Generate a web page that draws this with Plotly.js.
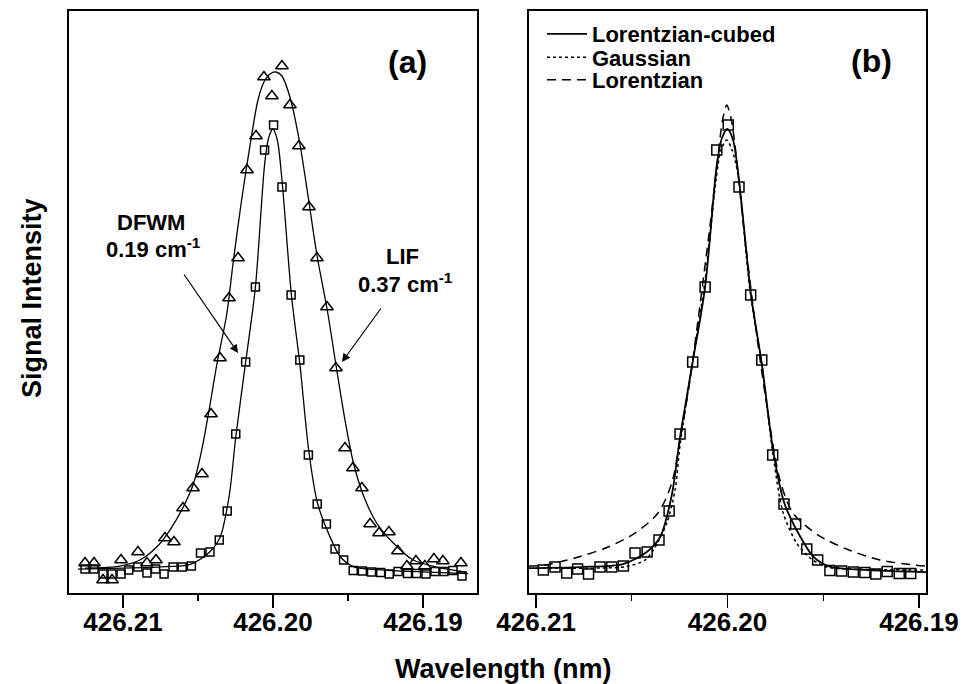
<!DOCTYPE html>
<html>
<head>
<meta charset="utf-8">
<script src="https://cdn.plot.ly/plotly-3.0.1.min.js"></script>
<style>html,body{margin:0;padding:0;background:#fff;}#chart{width:962px;height:684px;}</style>
</head>
<body>
<div id="chart"></div>
<script>
// ---- data (wavelength in nm, intensity in arbitrary units) ----
const tickVals = [426.21, 426.20, 426.19];
const tickText = ["426.21", "426.20", "426.19"];
const minorVals = [426.205, 426.195];

// LIF measurements (triangles), panel (a)
const lifX = [426.21253, 426.21193, 426.21133, 426.21073, 426.21013, 426.20900, 426.20840, 426.20780, 426.20720, 426.20660,
              426.20600, 426.20533, 426.20473, 426.20413, 426.20353, 426.20293, 426.20233, 426.20173, 426.20113, 426.20060,
              426.20007, 426.19940, 426.19887, 426.19827, 426.19760, 426.19707, 426.19640, 426.19580, 426.19520, 426.19467,
              426.19407, 426.19353, 426.19293, 426.19227, 426.19167, 426.19107, 426.19047, 426.18987, 426.18927, 426.18867,
              426.18747];
const lifY = [0.014, 0.014, -0.020, -0.020, 0.020, 0.036, 0.014, 0.020, 0.064, 0.056,
              0.124, 0.164, 0.192, 0.312, 0.424, 0.544, 0.624, 0.800, 0.868, 0.986,
              0.948, 1.008, 0.930, 0.848, 0.726, 0.624, 0.526, 0.404, 0.244, 0.204,
              0.164, 0.092, 0.074, 0.076, 0.038, 0.008, 0.018, 0.008, 0.022, 0.018,
              0.014];

// DFWM measurements (squares), panels (a) and (b)
const dfwmX = [426.21253, 426.21193, 426.21133, 426.21073, 426.21013, 426.20962, 426.20901, 426.20840, 426.20783, 426.20726,
               426.20666, 426.20605, 426.20544, 426.20483, 426.20420, 426.20358, 426.20305, 426.20248, 426.20182, 426.20117,
               426.20056, 426.19996, 426.19940, 426.19879, 426.19821, 426.19764, 426.19705, 426.19644, 426.19586, 426.19529,
               426.19465, 426.19404, 426.19343, 426.19282, 426.19225, 426.19166, 426.19103, 426.19043, 426.18980, 426.18920,
               426.18860, 426.18800, 426.18740];
const dfwmY = [0.002, 0.002, -0.008, -0.008, -0.008, 0.000, 0.006, -0.006, 0.002, -0.008,
               0.006, 0.006, 0.008, 0.034, 0.036, 0.060, 0.118, 0.272, 0.416, 0.566,
               0.840, 0.890, 0.766, 0.550, 0.420, 0.230, 0.132, 0.092, 0.042, 0.020,
               -0.001, -0.002, -0.004, -0.005, -0.008, -0.003, -0.007, -0.007, -0.008, -0.003,
               -0.003, -0.001, -0.012];
// panel (b) shows the central part of the same DFWM scan
const panelBFirst = 5, panelBLast = 37;

// LIF fitted curve, panel (a)
const lifFitX = [426.21253, 426.21020, 426.20887, 426.20775, 426.20687, 426.20598, 426.20531, 426.20475, 426.20420, 426.20375,
                 426.20309, 426.20265, 426.20209, 426.20142, 426.20100, 426.20060, 426.20020, 426.19980, 426.19940, 426.19887,
                 426.19825, 426.19762, 426.19707, 426.19638, 426.19580, 426.19520, 426.19465, 426.19398, 426.19309, 426.19198,
                 426.19065, 426.18909, 426.18709];
const lifFitY = [0.004, 0.008, 0.020, 0.046, 0.080, 0.126, 0.172, 0.240, 0.330, 0.410,
                 0.510, 0.616, 0.740, 0.870, 0.940, 0.976, 0.992, 0.996, 0.988, 0.946,
                 0.860, 0.740, 0.630, 0.520, 0.410, 0.300, 0.216, 0.150, 0.094, 0.054,
                 0.020, 0.006, -0.004];

// Lorentzian-cubed fit to DFWM (solid), panels (a) and (b)
const l3FitX = [426.21300, 426.20996, 426.20770, 426.20546, 426.20422, 426.20352, 426.20291, 426.20248, 426.20182, 426.20117,
                426.20056, 426.20029, 426.20001, 426.19971, 426.19940, 426.19877, 426.19820, 426.19762, 426.19705, 426.19639,
                426.19552, 426.19465, 426.19256, 426.18963, 426.18700];
const l3FitY = [0.002, 0.004, 0.006, 0.012, 0.036, 0.066, 0.150, 0.266, 0.416, 0.566,
                0.810, 0.864, 0.882, 0.860, 0.780, 0.550, 0.410, 0.240, 0.136, 0.080,
                0.027, 0.007, 0.000, -0.004, -0.007];

// Gaussian fit (dotted), panel (b)
const gaussFitX = [426.20996, 426.20666, 426.20526, 426.20431, 426.20387, 426.20317, 426.20274, 426.20248, 426.20185, 426.20117,
                   426.20060, 426.20034, 426.20004, 426.19976, 426.19945, 426.19883, 426.19820, 426.19762, 426.19709, 426.19639,
                   426.19569, 426.19482, 426.19360, 426.18963];
const gaussFitY = [0.004, 0.004, 0.007, 0.020, 0.040, 0.094, 0.160, 0.250, 0.410, 0.580,
                   0.780, 0.840, 0.860, 0.840, 0.790, 0.560, 0.410, 0.230, 0.114, 0.054,
                   0.024, 0.006, 0.002, 0.000];

// Lorentzian fit (dashed), panel (b)
const lorFitX = [426.21037, 426.20953, 426.20796, 426.20624, 426.20483, 426.20363, 426.20291, 426.20248, 426.20196, 426.20154,
                 426.20091, 426.20049, 426.20026, 426.20004, 426.19982, 426.19961, 426.19914, 426.19851, 426.19799, 426.19726,
                 426.19658, 426.19527, 426.19378, 426.19204, 426.19021, 426.18963];
const lorFitY = [0.008, 0.010, 0.024, 0.046, 0.074, 0.114, 0.174, 0.260, 0.380, 0.500,
                 0.690, 0.830, 0.900, 0.930, 0.904, 0.850, 0.680, 0.480, 0.340, 0.180,
                 0.114, 0.070, 0.042, 0.020, 0.010, 0.008];

const legendNames = ["Lorentzian-cubed", "Gaussian", "Lorentzian"];

// ---- styling ----
const FONT = "Liberation Sans, Arial, Helvetica, sans-serif";
const ink = "#000000";

const dfwmBX = dfwmX.slice(panelBFirst, panelBLast + 1);
const dfwmBY = dfwmY.slice(panelBFirst, panelBLast + 1);

const traces = [
  {x: lifFitX, y: lifFitY, xaxis: "x", yaxis: "y", mode: "lines", line: {color: ink, width: 1.3, shape: "spline", smoothing: 0.8}, showlegend: false, hoverinfo: "skip"},
  {x: l3FitX, y: l3FitY, xaxis: "x", yaxis: "y", mode: "lines", line: {color: ink, width: 1.3, shape: "spline", smoothing: 0.8}, showlegend: false, hoverinfo: "skip"},
  {x: lifX, y: lifY, xaxis: "x", yaxis: "y", mode: "markers", marker: {symbol: "triangle-up-open", size: 11, color: ink, line: {width: 1.5, color: ink}}, showlegend: false},
  {x: dfwmX, y: dfwmY, xaxis: "x", yaxis: "y", mode: "markers", marker: {symbol: "square-open", size: 8, color: ink, line: {width: 1.5, color: ink}}, showlegend: false},

  {x: l3FitX, y: l3FitY, xaxis: "x2", yaxis: "y2", mode: "lines", name: legendNames[0], legend: "legend", line: {color: ink, width: 1.8, shape: "spline", smoothing: 0.8}, showlegend: true},
  {x: gaussFitX, y: gaussFitY, xaxis: "x2", yaxis: "y2", mode: "lines", name: legendNames[1], legend: "legend2", line: {color: ink, width: 1.5, dash: "dot", shape: "spline", smoothing: 0.8}, showlegend: true},
  {x: lorFitX, y: lorFitY, xaxis: "x2", yaxis: "y2", mode: "lines", name: legendNames[2], legend: "legend3", line: {color: ink, width: 1.5, dash: "9px,6px", shape: "spline", smoothing: 0.8}, showlegend: true},
  {x: dfwmBX, y: dfwmBY, xaxis: "x2", yaxis: "y2", mode: "markers", marker: {symbol: "square-open", size: 10, color: ink, line: {width: 1.5, color: ink}}, showlegend: false}
];

function xAxis(domain, range, anchor) {
  return {
    domain: domain, range: range, anchor: anchor,
    tickmode: "array", tickvals: tickVals, ticktext: tickText,
    ticks: "outside", ticklen: 13, tickwidth: 1.5, tickcolor: ink,
    ticklabelstandoff: -8,
    minor: {tickmode: "array", tickvals: minorVals, ticks: "outside", ticklen: 6, tickwidth: 1.2, tickcolor: ink, showgrid: false},
    showline: true, linewidth: 2, linecolor: ink, mirror: true,
    showgrid: false, zeroline: false,
    tickfont: {family: FONT, size: 26, color: ink, weight: "bold"}
  };
}
function yAxis(anchor) {
  return {
    domain: [0.1330, 0.9832], range: [-0.046, 1.117], anchor: anchor,
    showticklabels: false, ticks: "",
    showline: true, linewidth: 2, linecolor: ink, mirror: true,
    showgrid: false, zeroline: false
  };
}

function legendRow(yPaper) {
  return {
    x: 0.5634, y: yPaper, xanchor: "left", yanchor: "middle",
    bgcolor: "rgba(0,0,0,0)", borderwidth: 0,
    font: {family: FONT, size: 22, color: ink, weight: "bold"},
    itemwidth: 40
  };
}

const labelFont = (s) => ({family: FONT, size: s, color: ink, weight: "bold"});

const layout = {
  width: 962, height: 684,
  margin: {l: 0, r: 0, t: 0, b: 0},
  paper_bgcolor: "#ffffff", plot_bgcolor: "#ffffff",
  xaxis: xAxis([0.0717, 0.4958], [426.2136, 426.1864], "y"),
  yaxis: yAxis("x"),
  xaxis2: xAxis([0.5499, 0.9626], [426.21037, 426.18963], "y2"),
  yaxis2: yAxis("x2"),
  showlegend: true,
  legend: legendRow(0.9503),
  legend2: legendRow(0.9159),
  legend3: legendRow(0.8830),
  annotations: [
    {xref: "paper", yref: "paper", x: 0.523, y: 0.022, text: "Wavelength (nm)", showarrow: false, xanchor: "center", yanchor: "middle", font: labelFont(27)},
    {xref: "paper", yref: "paper", x: 0.034, y: 0.564, text: "Signal Intensity", textangle: -90, showarrow: false, xanchor: "center", yanchor: "middle", font: labelFont(27)},
    {xref: "paper", yref: "paper", x: 0.4231, y: 0.9094, text: "(a)", showarrow: false, xanchor: "center", yanchor: "middle", font: labelFont(32)},
    {xref: "paper", yref: "paper", x: 0.9064, y: 0.9108, text: "(b)", showarrow: false, xanchor: "center", yanchor: "middle", font: labelFont(32)},
    {xref: "paper", yref: "paper", x: 0.157, y: 0.6754, text: "DFWM", showarrow: false, xanchor: "center", yanchor: "middle", font: labelFont(22)},
    {xref: "paper", yref: "paper", x: 0.1596, y: 0.6374, text: "0.19 cm<sup>-1</sup>", showarrow: false, xanchor: "center", yanchor: "middle", font: labelFont(22)},
    {xref: "paper", yref: "paper", x: 0.4179, y: 0.6243, text: "LIF", showarrow: false, xanchor: "center", yanchor: "middle", font: labelFont(22)},
    {xref: "paper", yref: "paper", x: 0.421, y: 0.5863, text: "0.37 cm<sup>-1</sup>", showarrow: false, xanchor: "center", yanchor: "middle", font: labelFont(22)},
    {xref: "x", yref: "y", x: 426.20233, y: 0.434, text: "", showarrow: true, axref: "pixel", ayref: "pixel", ax: -55, ay: -80, arrowhead: 2, arrowsize: 1.4, arrowwidth: 1.2, arrowcolor: ink, standoff: 0},
    {xref: "x", yref: "y", x: 426.19540, y: 0.416, text: "", showarrow: true, axref: "pixel", ayref: "pixel", ax: 40, ay: -55, arrowhead: 2, arrowsize: 1.4, arrowwidth: 1.2, arrowcolor: ink, standoff: 0}
  ]
};

Plotly.newPlot("chart", traces, layout, {staticPlot: true, displayModeBar: false});
</script>
</body>
</html>
